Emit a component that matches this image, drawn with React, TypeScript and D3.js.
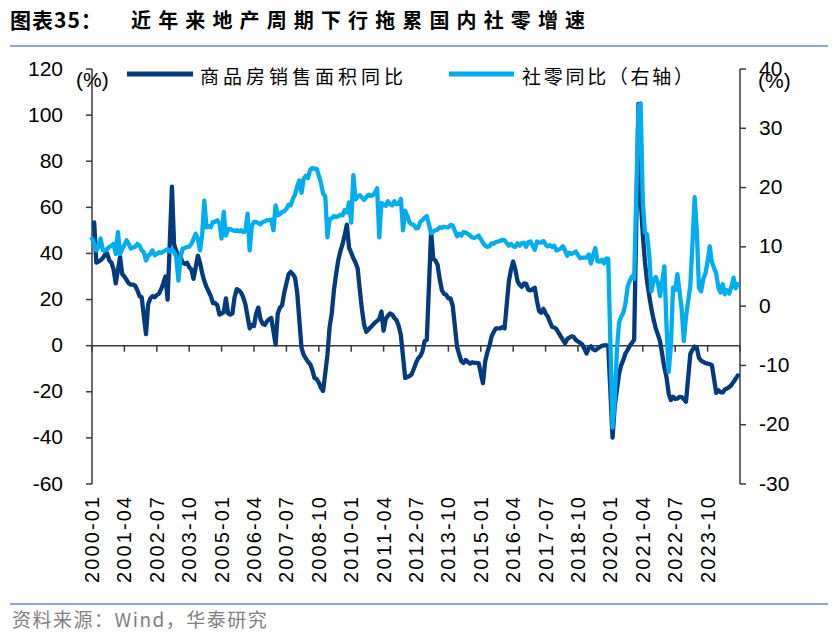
import React from 'react';
import * as d3 from 'd3';

// ---------- data ----------
const titlePrefix = '图表35：';
const titleText = '近年来地产周期下行拖累国内社零增速';
const sourceText = '资料来源：Wind，华泰研究';
const legendLabels = ['商品房销售面积同比', '社零同比（右轴）'];
const unitLabel = '(%)';

const xTickLabels = [
  '2000-01', '2001-04', '2002-07', '2003-10', '2005-01', '2006-04', '2007-07',
  '2008-10', '2010-01', '2011-04', '2012-07', '2013-10', '2015-01', '2016-04',
  '2017-07', '2018-10', '2020-01', '2021-04', '2022-07', '2023-10',
];
const leftTicks = [-60, -40, -20, 0, 20, 40, 60, 80, 100, 120];
const rightTicks = [-30, -20, -10, 0, 10, 20, 30, 40];

// 商品房销售面积累计同比 (%), left axis
const housingSales: [string, number][] = [
  ['2000-02', 53.5], ['2000-03', 36], ['2000-04', 36.5], ['2000-05', 37], ['2000-06', 38], ['2000-07', 39.5],
  ['2000-08', 40], ['2000-09', 37], ['2000-10', 36], ['2000-11', 33], ['2000-12', 27],
  ['2001-02', 38.5], ['2001-03', 31], ['2001-04', 30], ['2001-05', 28.5], ['2001-06', 27], ['2001-07', 26.5],
  ['2001-08', 26.5], ['2001-09', 26], ['2001-10', 24], ['2001-11', 21.5], ['2001-12', 21],
  ['2002-02', 5], ['2002-03', 18], ['2002-04', 20.5], ['2002-05', 21.5], ['2002-06', 21], ['2002-07', 22],
  ['2002-08', 22.5], ['2002-09', 24.5], ['2002-10', 27], ['2002-11', 30], ['2002-12', 20],
  ['2003-02', 69], ['2003-03', 44], ['2003-04', 41], ['2003-05', 39.5], ['2003-06', 38.5], ['2003-07', 36],
  ['2003-08', 35.5], ['2003-09', 36], ['2003-10', 34], ['2003-11', 33], ['2003-12', 29],
  ['2004-02', 39], ['2004-03', 36], ['2004-04', 31.5], ['2004-05', 28], ['2004-06', 25.5], ['2004-07', 23.5],
  ['2004-08', 21.5], ['2004-09', 18.5], ['2004-10', 18.5], ['2004-11', 17.5], ['2004-12', 13.5],
  ['2005-02', 14.5], ['2005-03', 20.5], ['2005-04', 14], ['2005-05', 13.5], ['2005-06', 14], ['2005-07', 21],
  ['2005-08', 24.5], ['2005-09', 24], ['2005-10', 23], ['2005-11', 21], ['2005-12', 18],
  ['2006-02', 7.5], ['2006-03', 9], ['2006-04', 8.5], ['2006-05', 14], ['2006-06', 16.5], ['2006-07', 11.5],
  ['2006-08', 9.5], ['2006-09', 9], ['2006-10', 10.5], ['2006-11', 11.5], ['2006-12', 12],
  ['2007-02', 0.5], ['2007-03', 14], ['2007-04', 16.5], ['2007-05', 17.5], ['2007-06', 23], ['2007-07', 27],
  ['2007-08', 31], ['2007-09', 32], ['2007-10', 31], ['2007-11', 29.5], ['2007-12', 23],
  ['2008-02', -1], ['2008-03', -4], ['2008-04', -5.5], ['2008-05', -7], ['2008-06', -8], ['2008-07', -10.5],
  ['2008-08', -14], ['2008-09', -14.5], ['2008-10', -16], ['2008-11', -18.3], ['2008-12', -19.7],
  ['2009-02', -4], ['2009-03', 8], ['2009-04', 14], ['2009-05', 24], ['2009-06', 31], ['2009-07', 37],
  ['2009-08', 41], ['2009-09', 44], ['2009-10', 48], ['2009-11', 52.5], ['2009-12', 42.5],
  ['2010-02', 38], ['2010-03', 36], ['2010-04', 33.5], ['2010-05', 24], ['2010-06', 15.5], ['2010-07', 9],
  ['2010-08', 6], ['2010-09', 7], ['2010-10', 8], ['2010-11', 9], ['2010-12', 10],
  ['2011-02', 11.5], ['2011-03', 14.8], ['2011-04', 6.5], ['2011-05', 11.5], ['2011-06', 13], ['2011-07', 14],
  ['2011-08', 13.5], ['2011-09', 12], ['2011-10', 11], ['2011-11', 8.5], ['2011-12', 4.5],
  ['2012-02', -14], ['2012-03', -13.6], ['2012-04', -13.2], ['2012-05', -12.4], ['2012-06', -10], ['2012-07', -7.5],
  ['2012-08', -5.5], ['2012-09', -4.5], ['2012-10', -2.5], ['2012-11', 2], ['2012-12', 2.5],
  ['2013-02', 49.5], ['2013-03', 37.5], ['2013-04', 37], ['2013-05', 35], ['2013-06', 28.7], ['2013-07', 24],
  ['2013-08', 22.5], ['2013-09', 22], ['2013-10', 20.5], ['2013-11', 20.5], ['2013-12', 17.3],
  ['2014-02', -0.5], ['2014-03', -3.8], ['2014-04', -6.8], ['2014-05', -7.5], ['2014-06', -6.2], ['2014-07', -7],
  ['2014-08', -7.8], ['2014-09', -7.2], ['2014-10', -7.5], ['2014-11', -7.5], ['2014-12', -7.6],
  ['2015-02', -16.3], ['2015-03', -7], ['2015-04', -3], ['2015-05', 0], ['2015-06', 4], ['2015-07', 6],
  ['2015-08', 7.5], ['2015-09', 7.5], ['2015-10', 7.5], ['2015-11', 8], ['2015-12', 7.5],
  ['2016-02', 28], ['2016-03', 33], ['2016-04', 36.5], ['2016-05', 33], ['2016-06', 28], ['2016-07', 26.4],
  ['2016-08', 25.5], ['2016-09', 27], ['2016-10', 26.8], ['2016-11', 24.3], ['2016-12', 24],
  ['2017-02', 25.1], ['2017-03', 19.5], ['2017-04', 15], ['2017-05', 14.3], ['2017-06', 16], ['2017-07', 14],
  ['2017-08', 12.7], ['2017-09', 10.3], ['2017-10', 8.2], ['2017-11', 7.9], ['2017-12', 7.2],
  ['2018-02', 4], ['2018-03', 2.5], ['2018-04', 1], ['2018-05', 2.8], ['2018-06', 3.5], ['2018-07', 4],
  ['2018-08', 3.8], ['2018-09', 2.5], ['2018-10', 1.8], ['2018-11', 1.2], ['2018-12', 0.5],
  ['2019-02', -3.4], ['2019-03', -0.9], ['2019-04', -0.3], ['2019-05', -1.6], ['2019-06', -2], ['2019-07', -1.3],
  ['2019-08', -0.6], ['2019-09', -0.1], ['2019-10', 0.1], ['2019-11', 0.2], ['2019-12', -0.1],
  ['2020-02', -39.9], ['2020-03', -26.3], ['2020-04', -19.3], ['2020-05', -12.3], ['2020-06', -8.4], ['2020-07', -6.2],
  ['2020-08', -3.3], ['2020-09', -1.8], ['2020-10', 0], ['2020-11', 1.3], ['2020-12', 2.6],
  ['2021-02', 104.9], ['2021-03', 63.8], ['2021-04', 48.1], ['2021-05', 36.3], ['2021-06', 27.7], ['2021-07', 21.5],
  ['2021-08', 15.9], ['2021-09', 11.3], ['2021-10', 7.5], ['2021-11', 4.8], ['2021-12', 1.9],
  ['2022-02', -9.6], ['2022-03', -13.8], ['2022-04', -20.9], ['2022-05', -23.6], ['2022-06', -22.2], ['2022-07', -23.1],
  ['2022-08', -23], ['2022-09', -22.2], ['2022-10', -22.3], ['2022-11', -23.3], ['2022-12', -24.3],
  ['2023-02', -3.6], ['2023-03', -1.8], ['2023-04', -0.4], ['2023-05', -0.9], ['2023-06', -5.3], ['2023-07', -6.5],
  ['2023-08', -7.1], ['2023-09', -7.5], ['2023-10', -7.8], ['2023-11', -8], ['2023-12', -8.5],
  ['2024-02', -20.5], ['2024-03', -19.4], ['2024-04', -20.2], ['2024-05', -20.3], ['2024-06', -19], ['2024-07', -18.6],
  ['2024-08', -18], ['2024-09', -17.1], ['2024-10', -15.8], ['2024-11', -14.3], ['2024-12', -12.9],
];

// 社会消费品零售总额当月同比 (%), right axis
const retailSales: [string, number][] = [
  ['2000-01', 11.4], ['2000-02', 10.5], ['2000-03', 9.4], ['2000-04', 10], ['2000-05', 11.4], ['2000-06', 9.4],
  ['2000-07', 9.5], ['2000-08', 9.6], ['2000-09', 10], ['2000-10', 10.2], ['2000-11', 10.5], ['2000-12', 8.8],
  ['2001-01', 12.5], ['2001-02', 8.8], ['2001-03', 9.6], ['2001-04', 10.3], ['2001-05', 11.1], ['2001-06', 10.5],
  ['2001-07', 9.7], ['2001-08', 9.9], ['2001-09', 10], ['2001-10', 10.5], ['2001-11', 10.2], ['2001-12', 9.4],
  ['2002-01', 9.1], ['2002-02', 7.7], ['2002-03', 8.5], ['2002-04', 8.8], ['2002-05', 9.4], ['2002-06', 8.6],
  ['2002-07', 8.8], ['2002-08', 9.1], ['2002-09', 9], ['2002-10', 9.2], ['2002-11', 9.4], ['2002-12', 9.6],
  ['2003-01', 9.2], ['2003-02', 9.6], ['2003-03', 9.1], ['2003-04', 8.3], ['2003-05', 4.3], ['2003-06', 8.3],
  ['2003-07', 9.7], ['2003-08', 9.8], ['2003-09', 10], ['2003-10', 10], ['2003-11', 10.5], ['2003-12', 11.3],
  ['2004-01', 12.2], ['2004-02', 11.3], ['2004-03', 9.4], ['2004-04', 12], ['2004-05', 17.8], ['2004-06', 13.3],
  ['2004-07', 13.5], ['2004-08', 13.3], ['2004-09', 14.2], ['2004-10', 14.2], ['2004-11', 14.5], ['2004-12', 14],
  ['2005-01', 11.4], ['2005-02', 15.9], ['2005-03', 11.9], ['2005-04', 13], ['2005-05', 13], ['2005-06', 12.8],
  ['2005-07', 12.7], ['2005-08', 12.8], ['2005-09', 12.6], ['2005-10', 12.8], ['2005-11', 12.5], ['2005-12', 12.6],
  ['2006-01', 15.6], ['2006-02', 9.4], ['2006-03', 13.6], ['2006-04', 14.2], ['2006-05', 14.2], ['2006-06', 14],
  ['2006-07', 13.8], ['2006-08', 14.2], ['2006-09', 14.3], ['2006-10', 14.5], ['2006-11', 14.5], ['2006-12', 14.6],
  ['2007-01', 12.8], ['2007-02', 17], ['2007-03', 15.3], ['2007-04', 15.5], ['2007-05', 15.9], ['2007-06', 16],
  ['2007-07', 16.4], ['2007-08', 17.1], ['2007-09', 17], ['2007-10', 18.1], ['2007-11', 18.8], ['2007-12', 20.2],
  ['2008-01', 21.2], ['2008-02', 19.1], ['2008-03', 21.5], ['2008-04', 22], ['2008-05', 21.6], ['2008-06', 23],
  ['2008-07', 23.3], ['2008-08', 23.2], ['2008-09', 23.2], ['2008-10', 22], ['2008-11', 20.8], ['2008-12', 19],
  ['2009-01', 18.5], ['2009-02', 11.6], ['2009-03', 14.7], ['2009-04', 14.8], ['2009-05', 15.2], ['2009-06', 15],
  ['2009-07', 15.2], ['2009-08', 15.4], ['2009-09', 15.3], ['2009-10', 16.2], ['2009-11', 15.8], ['2009-12', 17.5],
  ['2010-01', 14.1], ['2010-02', 22.1], ['2010-03', 18], ['2010-04', 18.5], ['2010-05', 18.7], ['2010-06', 18.3],
  ['2010-07', 17.9], ['2010-08', 18.4], ['2010-09', 18.8], ['2010-10', 18.6], ['2010-11', 18.7], ['2010-12', 19.1],
  ['2011-01', 19.9], ['2011-02', 11.6], ['2011-03', 17.4], ['2011-04', 17.1], ['2011-05', 16.9], ['2011-06', 17.7],
  ['2011-07', 17.2], ['2011-08', 17], ['2011-09', 17.7], ['2011-10', 17.2], ['2011-11', 17.3], ['2011-12', 18.1],
  ['2012-01', 12.8], ['2012-02', 16.1], ['2012-03', 15.2], ['2012-04', 14.1], ['2012-05', 13.8], ['2012-06', 13.7],
  ['2012-07', 13.1], ['2012-08', 13.2], ['2012-09', 14.2], ['2012-10', 14.5], ['2012-11', 14.9], ['2012-12', 15.2],
  ['2013-02', 12.3], ['2013-03', 12.6], ['2013-04', 12.8], ['2013-05', 12.9], ['2013-06', 13.3], ['2013-07', 13.2],
  ['2013-08', 13.4], ['2013-09', 13.3], ['2013-10', 13.3], ['2013-11', 13.7], ['2013-12', 13.6],
  ['2014-02', 11.8], ['2014-03', 12.2], ['2014-04', 11.9], ['2014-05', 12.5], ['2014-06', 12.4], ['2014-07', 12.2],
  ['2014-08', 11.9], ['2014-09', 11.6], ['2014-10', 11.5], ['2014-11', 11.7], ['2014-12', 11.9],
  ['2015-02', 10.7], ['2015-03', 10.2], ['2015-04', 10], ['2015-05', 10.1], ['2015-06', 10.6], ['2015-07', 10.5],
  ['2015-08', 10.8], ['2015-09', 10.9], ['2015-10', 11], ['2015-11', 11.2], ['2015-12', 11.1],
  ['2016-02', 10.2], ['2016-03', 10.5], ['2016-04', 10.1], ['2016-05', 10], ['2016-06', 10.6], ['2016-07', 10.2],
  ['2016-08', 10.6], ['2016-09', 10.7], ['2016-10', 10], ['2016-11', 10.8], ['2016-12', 10.9],
  ['2017-02', 9.5], ['2017-03', 10.9], ['2017-04', 10.7], ['2017-05', 10.7], ['2017-06', 11], ['2017-07', 10.4],
  ['2017-08', 10.1], ['2017-09', 10.3], ['2017-10', 10], ['2017-11', 10.2], ['2017-12', 9.4],
  ['2018-02', 9.7], ['2018-03', 10.1], ['2018-04', 9.4], ['2018-05', 8.5], ['2018-06', 9], ['2018-07', 8.8],
  ['2018-08', 9], ['2018-09', 9.2], ['2018-10', 8.6], ['2018-11', 8.1], ['2018-12', 8.2],
  ['2019-02', 8.2], ['2019-03', 8.7], ['2019-04', 7.2], ['2019-05', 8.6], ['2019-06', 9.8], ['2019-07', 7.6],
  ['2019-08', 7.5], ['2019-09', 7.8], ['2019-10', 7.2], ['2019-11', 8], ['2019-12', 8],
  ['2020-02', -20.5], ['2020-03', -15.8], ['2020-04', -7.5], ['2020-05', -2.8], ['2020-06', -1.8], ['2020-07', -1.1],
  ['2020-08', 0.5], ['2020-09', 3.3], ['2020-10', 4.3], ['2020-11', 5], ['2020-12', 4.6],
  ['2021-02', 33.8], ['2021-03', 34.2], ['2021-04', 17.7], ['2021-05', 12.4], ['2021-06', 12.1], ['2021-07', 8.5],
  ['2021-08', 2.5], ['2021-09', 4.4], ['2021-10', 4.9], ['2021-11', 3.9], ['2021-12', 1.7],
  ['2022-02', 6.7], ['2022-03', -3.5], ['2022-04', -11.1], ['2022-05', -6.7], ['2022-06', 3.1], ['2022-07', 2.7],
  ['2022-08', 5.4], ['2022-09', 2.5], ['2022-10', -0.5], ['2022-11', -5.9], ['2022-12', -1.8],
  ['2023-02', 3.5], ['2023-03', 10.6], ['2023-04', 18.4], ['2023-05', 12.7], ['2023-06', 3.1], ['2023-07', 2.5],
  ['2023-08', 4.6], ['2023-09', 5.5], ['2023-10', 7.6], ['2023-11', 10.1], ['2023-12', 7.4],
  ['2024-02', 5.5], ['2024-03', 3.1], ['2024-04', 2.3], ['2024-05', 3.7], ['2024-06', 2], ['2024-07', 2.7],
  ['2024-08', 2.1], ['2024-09', 3.2], ['2024-10', 4.8], ['2024-11', 3], ['2024-12', 3.7],
];

// ---------- helpers ----------
const monthIndex = (s: string) => {
  const [y, m] = s.split('-').map(Number);
  return (y - 2000) * 12 + (m - 1);
};

const W = 836;
const H = 636;
const plotLeft = 92;
const plotRight = 740;
const plotTop = 69;
const plotBottom = 484;

const DARK = '#033B7C';
const LIGHT = '#00AEEF';
const AXIS = '#3a3a3a';
const RULE = '#8FA8D2';
const NUM_FONT = '"Liberation Sans", Arial, sans-serif';
const CJK_FONT = '"Noto Sans CJK SC", "Noto Sans", sans-serif';

export default function App() {
  const x = d3.scaleLinear().domain([0, 300]).range([plotLeft, plotRight]);
  const yL = d3.scaleLinear().domain([-60, 120]).range([plotBottom, plotTop]);
  const yR = d3.scaleLinear().domain([-30, 40]).range([plotBottom, plotTop]);

  const lineL = d3
    .line<[string, number]>()
    .x((d) => x(monthIndex(d[0])))
    .y((d) => yL(d[1]));
  const lineR = d3
    .line<[string, number]>()
    .x((d) => x(monthIndex(d[0])))
    .y((d) => yR(d[1]));

  const xTickPositions = d3.range(0, 301, 15);
  const zeroY = yL(0);

  return (
    <svg
      width={W}
      height={H}
      viewBox={`0 0 ${W} ${H}`}
      style={{ position: 'absolute', left: 0, top: 0, background: '#fff' }}
    >
      {/* title */}
      <text x={10} y={28} fontFamily={CJK_FONT} fontWeight={700} fontSize={21} fill="#000" letterSpacing={1}>
        {titlePrefix}
      </text>
      <text x={131} y={28} fontFamily={CJK_FONT} fontWeight={700} fontSize={20} fill="#000" textLength={454} lengthAdjust="spacing">
        {titleText}
      </text>
      <line x1={10} x2={828} y1={46} y2={46} stroke={RULE} strokeWidth={2} />

      {/* zero line and x ticks */}
      <line x1={plotLeft} x2={plotRight} y1={zeroY} y2={zeroY} stroke={AXIS} strokeWidth={1.5} />
      {xTickPositions.map((m) => (
        <line key={`xt${m}`} x1={x(m)} x2={x(m)} y1={zeroY} y2={zeroY + 6} stroke={AXIS} strokeWidth={1.5} />
      ))}

      {/* left axis */}
      <line x1={plotLeft} x2={plotLeft} y1={plotTop} y2={plotBottom} stroke={AXIS} strokeWidth={1.5} />
      {leftTicks.map((t) => (
        <g key={`l${t}`}>
          <line x1={plotLeft - 6} x2={plotLeft} y1={yL(t)} y2={yL(t)} stroke={AXIS} strokeWidth={1.5} />
          <text x={63} y={yL(t) - 1} textAnchor="end" dominantBaseline="central" fontFamily={NUM_FONT} fontSize={21} fill="#000">
            {t}
          </text>
        </g>
      ))}
      <text x={76} y={79} dominantBaseline="central" fontFamily={NUM_FONT} fontSize={21} fill="#000">
        {unitLabel}
      </text>

      {/* right axis */}
      <line x1={plotRight} x2={plotRight} y1={plotTop} y2={plotBottom} stroke={AXIS} strokeWidth={1.5} />
      {rightTicks.map((t) => (
        <g key={`r${t}`}>
          <line x1={plotRight} x2={plotRight + 6} y1={yR(t)} y2={yR(t)} stroke={AXIS} strokeWidth={1.5} />
          <text x={759} y={yR(t) - 1} textAnchor="start" dominantBaseline="central" fontFamily={NUM_FONT} fontSize={21} fill="#000">
            {t}
          </text>
        </g>
      ))}
      <text x={758} y={80} dominantBaseline="central" fontFamily={NUM_FONT} fontSize={21} fill="#000">
        {unitLabel}
      </text>

      {/* x labels */}
      {xTickLabels.map((lab, i) => {
        const px = x(xTickPositions[i]);
        return (
          <text
            key={lab}
            transform={`translate(${px},${497}) rotate(-90)`}
            textAnchor="end"
            dominantBaseline="central"
            fontFamily={NUM_FONT}
            fontSize={20}
            fill="#000"
            textLength={86}
            lengthAdjust="spacing"
          >
            {lab}
          </text>
        );
      })}

      {/* series */}
      <path d={lineL(housingSales) ?? ''} fill="none" stroke={DARK} strokeWidth={4.3} strokeLinejoin="round" strokeLinecap="round" />
      <path d={lineR(retailSales) ?? ''} fill="none" stroke={LIGHT} strokeWidth={4.3} strokeLinejoin="round" strokeLinecap="round" />

      {/* legend */}
      <line x1={127} x2={193} y1={74} y2={74} stroke={DARK} strokeWidth={5} />
      <text x={200} y={75} dominantBaseline="central" fontFamily={CJK_FONT} fontSize={19} fill="#000" textLength={203} lengthAdjust="spacing">
        {legendLabels[0]}
      </text>
      <line x1={449} x2={514} y1={74} y2={74} stroke={LIGHT} strokeWidth={5} />
      <text x={522} y={75} dominantBaseline="central" fontFamily={CJK_FONT} fontSize={19} fill="#000" textLength={171} lengthAdjust="spacing">
        {legendLabels[1]}
      </text>

      {/* footer */}
      <line x1={10} x2={828} y1={604} y2={604} stroke={RULE} strokeWidth={2} />
      <text x={12} y={627} fontFamily={CJK_FONT} fontSize={19} fill="#7f7f7f" letterSpacing={1.5}>
        {sourceText}
      </text>
    </svg>
  );
}
